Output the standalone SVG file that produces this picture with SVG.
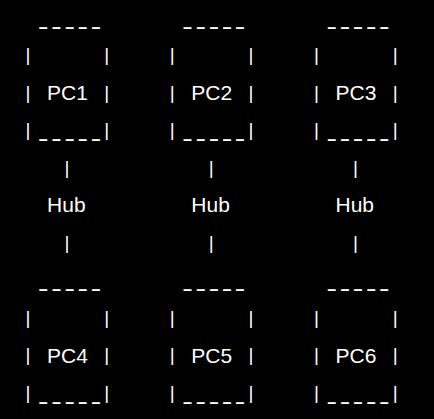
<svg xmlns="http://www.w3.org/2000/svg" width="434" height="419" viewBox="0 0 434 419">
<style>
text{fill:#ffffff;font-family:"Liberation Sans",Arial,sans-serif}
.p{font-size:19px;text-anchor:middle}
.u{font-size:27px;text-anchor:middle}
.w{font-size:21px}
</style>
<rect width="434" height="419" fill="#000000"/>
<g id="pc1">
<text class="u" transform="scale(0.5 1)" x="86.6 113.2 139.4 165.6 191.8" y="22.7">_____</text>
<text class="p" x="28" y="61">|</text><text class="p" x="106.7" y="61">|</text>
<text class="p" x="28" y="98.55">|</text><text class="p" x="106.7" y="98.55">|</text>
<text class="w" x="47.1" y="99.85">PC1</text>
<text class="p" x="28" y="136.1">|</text><text class="p" x="106.7" y="136.1">|</text>
<text class="u" transform="scale(0.5 1)" x="86.6 113.2 139.4 165.6 191.8" y="135.1">_____</text>
</g>
<g id="pc2">
<text class="u" transform="scale(0.5 1)" x="375 401.6 427.8 454 480.2" y="22.7">_____</text>
<text class="p" x="172.2" y="61">|</text><text class="p" x="250.9" y="61">|</text>
<text class="p" x="172.2" y="98.55">|</text><text class="p" x="250.9" y="98.55">|</text>
<text class="w" x="191.3" y="99.85">PC2</text>
<text class="p" x="172.2" y="136.1">|</text><text class="p" x="250.9" y="136.1">|</text>
<text class="u" transform="scale(0.5 1)" x="375 401.6 427.8 454 480.2" y="135.1">_____</text>
</g>
<g id="pc3">
<text class="u" transform="scale(0.5 1)" x="663.4 690 716.2 742.4 768.6" y="22.7">_____</text>
<text class="p" x="316.4" y="61">|</text><text class="p" x="395.1" y="61">|</text>
<text class="p" x="316.4" y="98.55">|</text><text class="p" x="395.1" y="98.55">|</text>
<text class="w" x="335.5" y="99.85">PC3</text>
<text class="p" x="316.4" y="136.1">|</text><text class="p" x="395.1" y="136.1">|</text>
<text class="u" transform="scale(0.5 1)" x="663.4 690 716.2 742.4 768.6" y="135.1">_____</text>
</g>
<g id="hub1"><text class="w" x="47.1" y="212.45">Hub</text></g>
<g id="hub2"><text class="w" x="191.3" y="212.45">Hub</text></g>
<g id="hub3"><text class="w" x="335.5" y="212.45">Hub</text></g>
<g id="connectors">
<text class="p" x="67" y="173.65">|</text>
<text class="p" x="211.2" y="173.65">|</text>
<text class="p" x="355.4" y="173.65">|</text>
<text class="p" x="67" y="248.75">|</text>
<text class="p" x="211.2" y="248.75">|</text>
<text class="p" x="355.4" y="248.75">|</text>
</g>
<g id="pc4">
<text class="u" transform="scale(0.5 1)" x="86.6 113.2 139.4 165.6 191.8" y="285.3">_____</text>
<text class="p" x="28" y="323.85">|</text><text class="p" x="106.7" y="323.85">|</text>
<text class="p" x="28" y="361.4">|</text><text class="p" x="106.7" y="361.4">|</text>
<text class="w" x="47.1" y="362.7">PC4</text>
<text class="p" x="28" y="398.95">|</text><text class="p" x="106.7" y="398.95">|</text>
<text class="u" transform="scale(0.5 1)" x="86.6 113.2 139.4 165.6 191.8" y="398">_____</text>
</g>
<g id="pc5">
<text class="u" transform="scale(0.5 1)" x="375 401.6 427.8 454 480.2" y="285.3">_____</text>
<text class="p" x="172.2" y="323.85">|</text><text class="p" x="250.9" y="323.85">|</text>
<text class="p" x="172.2" y="361.4">|</text><text class="p" x="250.9" y="361.4">|</text>
<text class="w" x="191.3" y="362.7">PC5</text>
<text class="p" x="172.2" y="398.95">|</text><text class="p" x="250.9" y="398.95">|</text>
<text class="u" transform="scale(0.5 1)" x="375 401.6 427.8 454 480.2" y="398">_____</text>
</g>
<g id="pc6">
<text class="u" transform="scale(0.5 1)" x="663.4 690 716.2 742.4 768.6" y="285.3">_____</text>
<text class="p" x="316.4" y="323.85">|</text><text class="p" x="395.1" y="323.85">|</text>
<text class="p" x="316.4" y="361.4">|</text><text class="p" x="395.1" y="361.4">|</text>
<text class="w" x="335.5" y="362.7">PC6</text>
<text class="p" x="316.4" y="398.95">|</text><text class="p" x="395.1" y="398.95">|</text>
<text class="u" transform="scale(0.5 1)" x="663.4 690 716.2 742.4 768.6" y="398">_____</text>
</g>
</svg>
